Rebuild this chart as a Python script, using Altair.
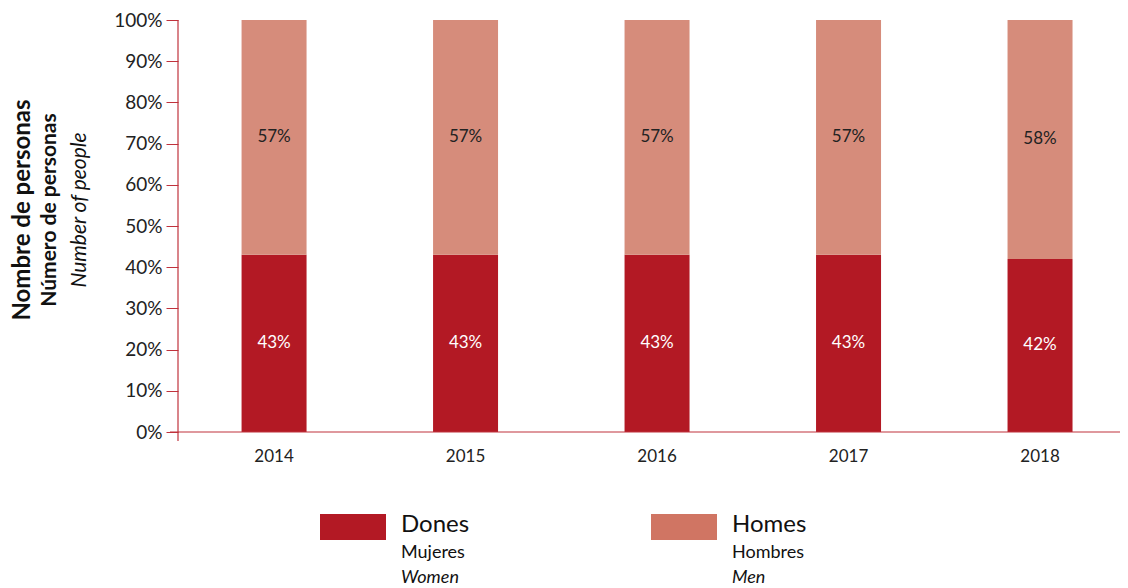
import altair as alt
import pandas as pd

years = ["2014", "2015", "2016", "2017", "2018"]
dones = [43, 43, 43, 43, 42]
homes = [57, 57, 57, 57, 58]
series = ["Dones", "Homes"]
series_es = ["Mujeres", "Hombres"]
series_en = ["Women", "Men"]
bar_colors = ["#b31924", "#d68c7b"]
legend_colors = ["#b31924", "#d07563"]
y_ticks = [0, 10, 20, 30, 40, 50, 60, 70, 80, 90, 100]

rows = []
for i, yr in enumerate(years):
    rows.append({"year": yr, "sex": "Dones", "order": 0, "value": dones[i]})
    rows.append({"year": yr, "sex": "Homes", "order": 1, "value": homes[i]})
df = pd.DataFrame(rows)

W, H = 950, 412
FONT = "Lato"
AXIS_RED = "#c0323c"

base = alt.Chart(df).transform_stack(
    stack="value", groupby=["year"], as_=["v0", "v1"],
    sort=[alt.SortField("order", order="ascending")]
).transform_calculate(mid="(datum.v0 + datum.v1) / 2")

x_enc = alt.X("year:N", sort=years,
              scale=alt.Scale(paddingInner=0.6606, paddingOuter=0.3108, align=0.534),
              axis=alt.Axis(title=None, ticks=False, domain=False, labelPadding=16,
                            labelFontSize=17, labelColor="#222", labelFont=FONT,
                            labelAngle=0))

bars = base.mark_bar().encode(
    x=x_enc,
    y=alt.Y("v0:Q", scale=alt.Scale(domain=[0, 100], nice=False),
            axis=alt.Axis(title=None, values=y_ticks, labelExpr="datum.value + '%'",
                          labelFontSize=19, labelColor="#222", labelFont=FONT,
                          tickSize=12, tickColor=AXIS_RED, tickWidth=1,
                          labelPadding=4, domain=False, grid=False)),
    y2="v1:Q",
    color=alt.Color("sex:N", scale=alt.Scale(domain=series, range=bar_colors), legend=None),
)

labels = base.mark_text(font=FONT, fontSize=17, baseline="middle").encode(
    x=alt.X("year:N", sort=years),
    y=alt.Y("mid:Q"),
    text=alt.Text("label:N"),
    color=alt.condition("datum.sex == 'Dones'", alt.value("white"), alt.value("#222")),
).transform_calculate(label="datum.value + '%'")

one = alt.Chart(pd.DataFrame({"a": [0]}))

y_rule = one.mark_rule(color=AXIS_RED, strokeWidth=1.2).encode(
    x=alt.value(0), y=alt.value(0), y2=alt.value(H + 9))
x_rule = one.mark_rule(color=AXIS_RED, strokeWidth=1.2).encode(
    x=alt.value(-8), x2=alt.value(W), y=alt.value(H))

title_specs = [
    ("Nombre de personas", -155, 24, "bold", "normal"),
    ("Número de personas", -128, 21, "bold", "normal"),
    ("Number of people", -98, 21, "normal", "italic"),
]
titles = []
for txt, xx, fs, fw, fst in title_specs:
    titles.append(one.mark_text(font=FONT, fontSize=fs, fontWeight=fw, fontStyle=fst,
                                angle=270, align="center", baseline="middle",
                                color="#111").encode(
        x=alt.value(xx), y=alt.value(190), text=alt.value(txt)))

legend_layers = []
for i in range(len(series)):
    x0 = 142 + i * 331
    legend_layers.append(one.mark_rect(color=legend_colors[i]).encode(
        x=alt.value(x0), x2=alt.value(x0 + 66), y=alt.value(494), y2=alt.value(520)))
    legend_layers.append(one.mark_text(font=FONT, fontSize=24, align="left",
                                       baseline="middle", color="#111").encode(
        x=alt.value(x0 + 81), y=alt.value(505), text=alt.value(series[i])))
    legend_layers.append(one.mark_text(font=FONT, fontSize=18, align="left",
                                       baseline="middle", color="#111").encode(
        x=alt.value(x0 + 81), y=alt.value(533), text=alt.value(series_es[i])))
    legend_layers.append(one.mark_text(font=FONT, fontSize=18, fontStyle="italic",
                                       align="left", baseline="middle",
                                       color="#111").encode(
        x=alt.value(x0 + 81), y=alt.value(558), text=alt.value(series_en[i])))

chart = alt.layer(bars, labels, y_rule, x_rule, *titles, *legend_layers).properties(
    width=W, height=H,
    autosize=alt.AutoSizeParams(type="none"),
    padding={"left": 170, "top": 12, "right": -8, "bottom": 160},
).configure_view(stroke=None)

chart.save("out.html", embed_options={"renderer": "svg", "actions": False})
